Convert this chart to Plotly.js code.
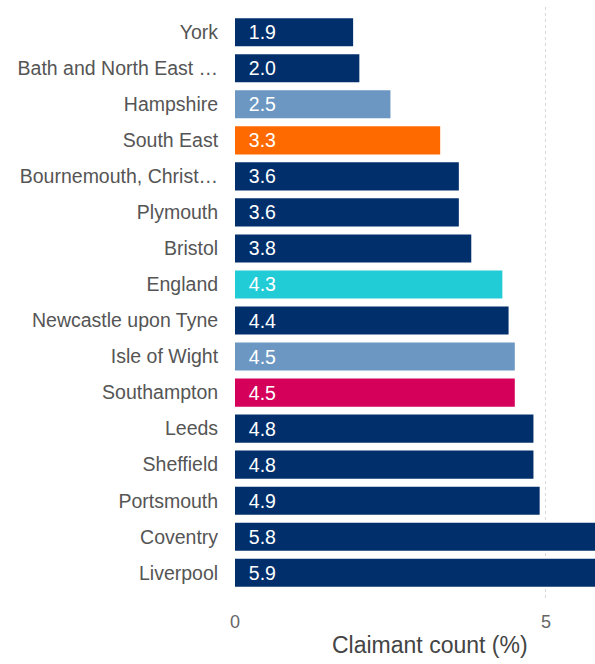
<!DOCTYPE html>
<html>
<head>
<meta charset="utf-8">
<script src="https://cdn.plot.ly/plotly-3.0.1.min.js"></script>
<style>
  html, body { margin: 0; padding: 0; background: #fff; overflow: hidden; }
  #chart { width: 595px; height: 664px; }
</style>
</head>
<body>
<div id="chart"></div>
<script>
// Claimant count (%) by area, lowest to highest
const areas = [
  "York", "Bath and North East …", "Hampshire", "South East",
  "Bournemouth, Christ…", "Plymouth", "Bristol", "England",
  "Newcastle upon Tyne", "Isle of Wight", "Southampton", "Leeds",
  "Sheffield", "Portsmouth", "Coventry", "Liverpool"
];
const claimantPct = [1.9, 2.0, 2.5, 3.3, 3.6, 3.6, 3.8, 4.3, 4.4, 4.5, 4.5, 4.8, 4.8, 4.9, 5.8, 5.9];
const barColours = [
  "#002f6c", "#002f6c", "#6b97c2", "#ff6a00",
  "#002f6c", "#002f6c", "#002f6c", "#22ccd6",
  "#002f6c", "#6b97c2", "#d4005a", "#002f6c",
  "#002f6c", "#002f6c", "#002f6c", "#002f6c"
];
const xTicks = [0, 5];

const FONT = "Liberation Sans, Arial, sans-serif";

const trace = {
  type: "bar",
  orientation: "h",
  y: areas,
  x: claimantPct,
  marker: { color: barColours, line: { width: 0 } },
  // non-breaking spaces pad the value away from the bar's base
  text: claimantPct.map(v => "\u00a0\u00a0" + v.toFixed(1)),
  textposition: "inside",
  insidetextanchor: "start",
  textangle: 0,
  constraintext: "none",
  insidetextfont: { color: "#ffffff", size: 19.5, family: FONT },
  cliponaxis: true,
  hoverinfo: "none"
};

const layout = {
  width: 595,
  height: 664,
  margin: { l: 235, r: 0, t: 7, b: 66 },
  paper_bgcolor: "#ffffff",
  plot_bgcolor: "#ffffff",
  showlegend: false,
  bargap: 0.22,
  font: { family: FONT, color: "#555555", size: 19 },
  xaxis: {
    range: [0, 5.79],
    tickvals: xTicks,
    ticktext: xTicks.map(String),
    showgrid: true,
    gridcolor: "#d9d9d9",
    griddash: "dot",
    gridwidth: 1,
    zeroline: false,
    showline: false,
    ticks: "outside",
    ticklen: 7,
    tickcolor: "rgba(0,0,0,0)",
    tickfont: { size: 18, color: "#666666" },
    fixedrange: true
  },
  yaxis: {
    type: "category",
    categoryorder: "array",
    categoryarray: areas,
    range: [15.7, -0.7],
    showgrid: false,
    zeroline: false,
    showline: false,
    ticks: "outside",
    ticklen: 12,
    tickcolor: "rgba(0,0,0,0)",
    tickfont: { size: 19.5, color: "#555555" },
    fixedrange: true
  },
  annotations: [{
    text: "Claimant count (%)",
    xref: "paper", yref: "paper",
    x: 0.5417, y: -0.079,
    xanchor: "center", yanchor: "middle",
    showarrow: false,
    font: { size: 23, color: "#444444" }
  }]
};

Plotly.newPlot("chart", [trace], layout, { staticPlot: true, displayModeBar: false });
</script>
</body>
</html>
